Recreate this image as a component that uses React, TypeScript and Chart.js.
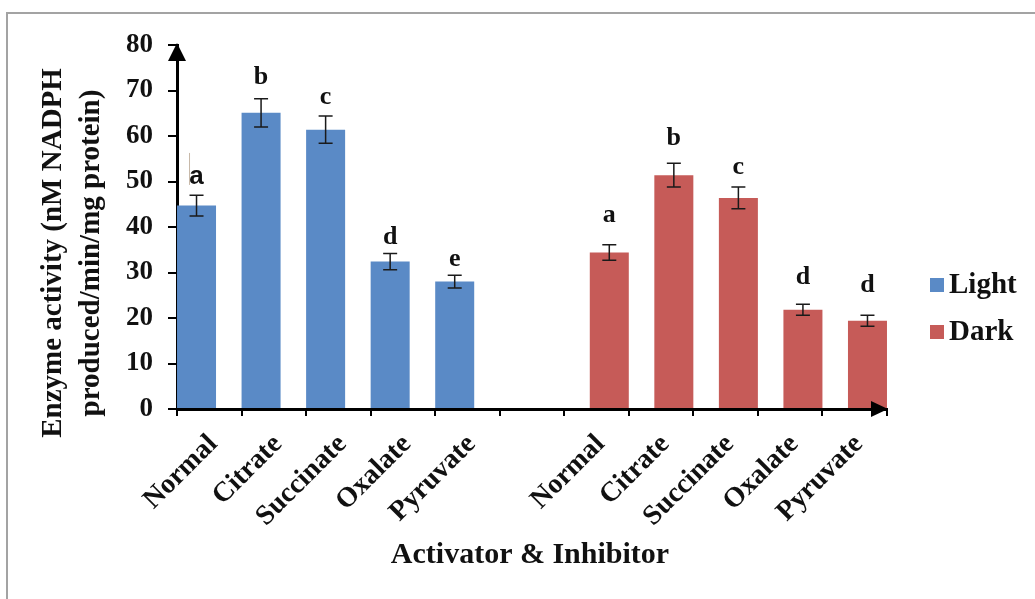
import React, { useEffect, useRef } from 'react';
import { Chart, registerables } from 'chart.js';

Chart.register(...registerables);

const groupCategories = ['Normal', 'Citrate', 'Succinate', 'Oxalate', 'Pyruvate'];
const tickLabels = [...groupCategories, '', ...groupCategories];
const seriesNames = ['Light', 'Dark'];

const lightValues = [44.7, 65.1, 61.4, 32.4, 28.0];
const lightErrors = [2.3, 3.1, 3.0, 1.8, 1.4];
const lightLetters = ['a', 'b', 'c', 'd', 'e'];
const lightLetterLevels = [51.0, 73.0, 68.4, 37.8, 33.0];

const darkValues = [34.4, 51.4, 46.4, 21.8, 19.4];
const darkErrors = [1.7, 2.6, 2.4, 1.2, 1.2];
const darkLetters = ['a', 'b', 'c', 'd', 'd'];
const darkLetterLevels = [42.6, 59.6, 53.2, 29.0, 27.3];

const yMin = 0;
const yMax = 80;
const yStep = 10;

const yTitleLines = ['Enzyme activity (nM NADPH', 'produced/min/mg protein)'];
const xTitle = 'Activator & Inhibitor';

const LIGHT_COLOR = '#5A8AC6';
const DARK_COLOR = '#C65B58';
const SERIF = '"Liberation Serif", "Times New Roman", serif';

const gap = [null];
const nulls5 = [null, null, null, null, null];
const lightData = [...lightValues, ...gap, ...nulls5];
const darkData = [...nulls5, ...gap, ...darkValues];
const lightErrData = [...lightErrors, ...gap, ...nulls5];
const darkErrData = [...nulls5, ...gap, ...darkErrors];
const lightLetterData = [...lightLetters, ...gap, ...nulls5];
const darkLetterData = [...nulls5, ...gap, ...darkLetters];
const lightLevelData = [...lightLetterLevels, ...gap, ...nulls5];
const darkLevelData = [...nulls5, ...gap, ...darkLetterLevels];

const decorPlugin = {
  id: 'decor',
  beforeDraw(chart: any) {
    const ctx = chart.ctx;
    ctx.save();
    ctx.fillStyle = '#ffffff';
    ctx.fillRect(0, 0, chart.width, chart.height);
    ctx.strokeStyle = '#a3a3a3';
    ctx.lineWidth = 2;
    ctx.beginPath();
    ctx.moveTo(7, chart.height + 2);
    ctx.lineTo(7, 13);
    ctx.lineTo(chart.width + 2, 13);
    ctx.stroke();
    ctx.restore();
  },
  afterDatasetsDraw(chart: any) {
    const ctx = chart.ctx;
    const yScale = chart.scales.y;
    const errSets = [lightErrData, darkErrData];
    const letterSets = [lightLetterData, darkLetterData];
    const levelSets = [lightLevelData, darkLevelData];
    ctx.save();
    for (let d = 0; d < 2; d++) {
      const meta = chart.getDatasetMeta(d);
      const data = chart.data.datasets[d].data;
      meta.data.forEach((bar: any, i: number) => {
        const v = data[i];
        if (v == null) return;
        const e = errSets[d][i] as number;
        const x = bar.x;
        const yTop = yScale.getPixelForValue(v + e);
        const yBot = yScale.getPixelForValue(v - e);
        ctx.strokeStyle = '#1a1a1a';
        ctx.lineWidth = 1.5;
        ctx.beginPath();
        ctx.moveTo(x, yTop);
        ctx.lineTo(x, yBot);
        ctx.moveTo(x - 7, yTop);
        ctx.lineTo(x + 7, yTop);
        ctx.moveTo(x - 7, yBot);
        ctx.lineTo(x + 7, yBot);
        ctx.stroke();
        const letter = letterSets[d][i];
        const level = levelSets[d][i] as number;
        const ly = yScale.getPixelForValue(level);
        ctx.fillStyle = '#111';
        ctx.textAlign = 'center';
        ctx.textBaseline = 'middle';
        if (d === 0 && i === 0) {
          ctx.font = 'bold 26px "Liberation Sans", Arial, sans-serif';
          ctx.fillText(letter as string, x, ly);
          ctx.strokeStyle = '#c8b8a8';
          ctx.lineWidth = 1;
          ctx.beginPath();
          ctx.moveTo(x - 7, ly - 24);
          ctx.lineTo(x - 7, ly + 8);
          ctx.stroke();
        } else {
          ctx.font = 'bold 26px ' + SERIF;
          ctx.fillText(letter as string, x, ly);
        }
      });
    }
    ctx.restore();
  },
  afterDraw(chart: any) {
    const ctx = chart.ctx;
    const a = chart.chartArea;
    ctx.save();
    ctx.fillStyle = '#000';
    // y-axis arrow
    ctx.beginPath();
    ctx.moveTo(a.left, a.top - 2);
    ctx.lineTo(a.left - 9, a.top + 16);
    ctx.lineTo(a.left + 9, a.top + 16);
    ctx.closePath();
    ctx.fill();
    // x-axis arrow
    ctx.beginPath();
    ctx.moveTo(a.right + 1, a.bottom);
    ctx.lineTo(a.right - 16, a.bottom - 8);
    ctx.lineTo(a.right - 16, a.bottom + 8);
    ctx.closePath();
    ctx.fill();

    // y title
    ctx.fillStyle = '#111';
    ctx.font = 'bold 29px ' + SERIF;
    ctx.textAlign = 'center';
    ctx.textBaseline = 'alphabetic';
    const cy = 253;
    const xs = [61, 99];
    yTitleLines.forEach((t, k) => {
      ctx.save();
      ctx.translate(xs[k], cy);
      ctx.rotate(-Math.PI / 2);
      ctx.fillText(t, 0, 0);
      ctx.restore();
    });

    // x title
    ctx.font = 'bold 30px ' + SERIF;
    ctx.fillText(xTitle, (a.left + a.right) / 2 - 2, 563);

    // legend
    const colors = [LIGHT_COLOR, DARK_COLOR];
    const ys = [285, 332];
    ctx.font = 'bold 29px ' + SERIF;
    ctx.textAlign = 'left';
    ctx.textBaseline = 'middle';
    seriesNames.forEach((n, k) => {
      ctx.fillStyle = colors[k];
      ctx.fillRect(930, ys[k] - 7, 14, 14);
      ctx.fillStyle = '#111';
      ctx.fillText(n, 949, ys[k] + 1);
    });
    ctx.restore();
  },
};

export default function App() {
  const ref = useRef<HTMLCanvasElement>(null);
  useEffect(() => {
    if (!ref.current) return;
    const chart = new Chart(ref.current, {
      type: 'bar',
      data: {
        labels: tickLabels,
        datasets: [
          {
            label: seriesNames[0],
            data: lightData,
            backgroundColor: LIGHT_COLOR,
            borderWidth: 0,
            categoryPercentage: 0.79,
            barPercentage: 1.53,
          },
          {
            label: seriesNames[1],
            data: darkData,
            backgroundColor: DARK_COLOR,
            borderWidth: 0,
            categoryPercentage: 0.79,
            barPercentage: 1.53,
          },
        ],
      },
      options: {
        responsive: false,
        animation: false,
        layout: { padding: { top: 45, right: 148, bottom: 0, left: 0 } },
        plugins: { legend: { display: false }, tooltip: { enabled: false } },
        scales: {
          x: {
            grid: {
              offset: true,
              drawOnChartArea: false,
              drawTicks: true,
              tickLength: 7,
              color: '#000',
              lineWidth: 2,
            },
            border: { color: '#000', width: 3 },
            ticks: {
              autoSkip: false,
              minRotation: 45,
              maxRotation: 45,
              color: '#111',
              font: { family: SERIF, size: 28, weight: 'bold' },
              padding: 12,
              labelOffset: 4,
            },
            afterFit: (s: any) => {
              s.height = 190;
              s.paddingLeft = 0;
              s.paddingRight = 0;
            },
          },
          y: {
            min: yMin,
            max: yMax,
            grid: {
              drawOnChartArea: false,
              drawTicks: true,
              tickLength: 9,
              color: '#000',
              lineWidth: 2,
            },
            border: { color: '#000', width: 3 },
            ticks: {
              stepSize: yStep,
              color: '#111',
              font: { family: SERIF, size: 27, weight: 'bold' },
              padding: 15,
            },
            afterFit: (s: any) => {
              s.width = 177;
              s.paddingTop = 0;
              s.paddingBottom = 0;
            },
          },
        },
      },
      plugins: [decorPlugin],
    });
    return () => chart.destroy();
  }, []);
  return (
    <div style={{ position: 'fixed', left: 0, top: 0, width: 1035, height: 599, background: '#fff' }}>
      <canvas ref={ref} width={1035} height={599} style={{ display: 'block' }} />
    </div>
  );
}
